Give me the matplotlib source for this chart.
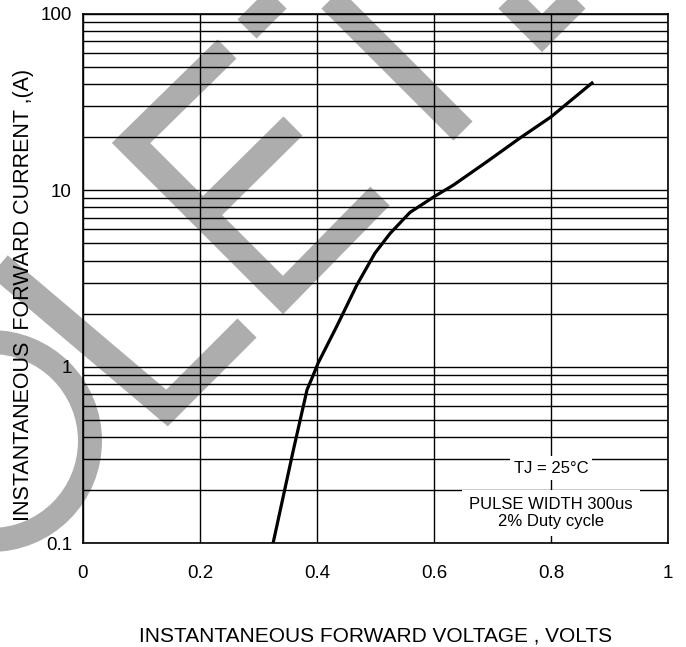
import matplotlib.pyplot as plt
from matplotlib.lines import Line2D
from matplotlib.patches import Circle
from matplotlib.ticker import FixedLocator, LogLocator, NullFormatter

plt.rcParams['font.family'] = ['Liberation Sans', 'DejaVu Sans']

# forward characteristic
voltage = [0.325, 0.359, 0.383, 0.392, 0.402, 0.434, 0.468, 0.499, 0.525, 0.559,
           0.600, 0.633, 0.690, 0.747, 0.800, 0.870]
current = [0.1, 0.33, 0.74, 0.87, 1.05, 1.7, 2.9, 4.4, 5.7, 7.5,
           9.2, 10.7, 14.5, 19.8, 26.1, 40.6]

x_ticks = [0, 0.2, 0.4, 0.6, 0.8, 1.0]
x_labels = ['0', '0.2', '0.4', '0.6', '0.8', '1']
y_ticks = [0.1, 1, 10, 100]
y_labels = ['0.1', '1', '10', '100']

# grey "obsolete" stamp behind the chart, pixel coordinates (y down)
stamp_strokes = [
    [(227, 49), (131, 143), (283, 295), (380, 196)],
    [(203, 215), (293, 126)],
    [(247, 29), (350, -74)],
    [(304, -28), (463, 131)],
    [(500, -9), (542, 33), (590, -15)],
    [(-10, 258), (167, 408), (247, 328)],
]
stamp_ring = (-9, 441, 99)

W, H, DPI = 686, 647, 100
fig = plt.figure(figsize=(W / DPI, H / DPI), dpi=DPI)
ax = fig.add_axes([83 / W, 1 - 543 / H, 585 / W, 529 / H])
ax.patch.set_visible(False)

grey = '#adadad'
for stroke in stamp_strokes:
    xs = [p[0] / DPI for p in stroke]
    ys = [(H - p[1]) / DPI for p in stroke]
    fig.add_artist(Line2D(xs, ys, transform=fig.dpi_scale_trans, color=grey,
                          lw=27 * 72 / DPI, solid_capstyle='butt',
                          solid_joinstyle='miter', zorder=-1))
cx, cy, r = stamp_ring
fig.add_artist(Circle((cx / DPI, (H - cy) / DPI), r / DPI, transform=fig.dpi_scale_trans,
                      fill=False, edgecolor=grey, lw=24 * 72 / DPI, zorder=-1))

ax.plot(voltage, current, color='black', lw=2.3, zorder=3)

ax.set_yscale('log')
ax.set_xlim(0, 1)
ax.set_ylim(0.1, 100)
ax.xaxis.set_major_locator(FixedLocator(x_ticks))
ax.set_xticklabels(x_labels)
ax.yaxis.set_major_locator(FixedLocator(y_ticks))
ax.set_yticklabels(y_labels)
ax.yaxis.set_minor_locator(LogLocator(base=10, subs=range(2, 10)))
ax.yaxis.set_minor_formatter(NullFormatter())
ax.tick_params(which='both', length=0)
ax.tick_params(axis='x', pad=16, labelsize=13.5)
ax.tick_params(axis='y', pad=8, labelsize=13.5)
ax.grid(which='both', color='black', lw=1.0)
for s in ax.spines.values():
    s.set_linewidth(1.2)

ax.set_xlabel('INSTANTANEOUS FORWARD VOLTAGE , VOLTS', fontsize=15, labelpad=32)
ax.set_ylabel('INSTANTANEOUS  FORWARD CURRENT ,(A)', fontsize=15.5)
ax.yaxis.set_label_coords(-0.084, 0.469)

box = dict(facecolor='white', edgecolor='none', pad=3)
ax.text(0.8, 0.266, 'TJ = 25°C', ha='center', va='center', fontsize=12, bbox=box, zorder=4)
ax.text(0.8, 0.148, 'PULSE WIDTH 300us\n2% Duty cycle', ha='center', va='center',
        fontsize=12, linespacing=1.15, multialignment='center', bbox=dict(box, pad=5), zorder=4)

fig.savefig('out.png', dpi=DPI)
